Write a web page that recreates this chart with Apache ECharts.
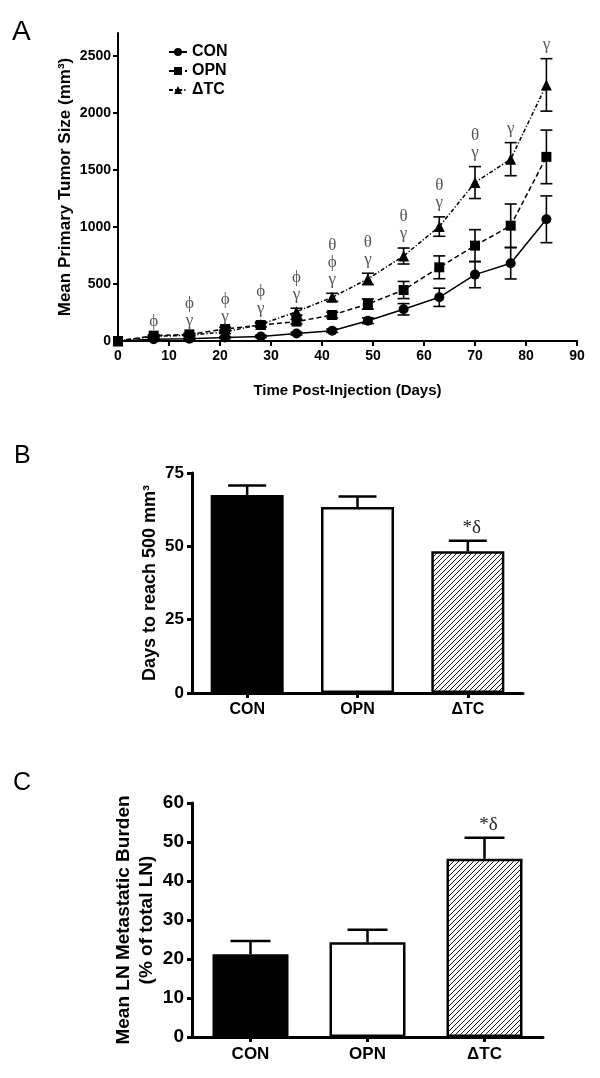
<!DOCTYPE html>
<html><head><meta charset="utf-8">
<script src="https://cdn.jsdelivr.net/npm/echarts@6/dist/echarts.min.js"></script>
<style>html,body{margin:0;padding:0;background:#fff}#c{width:600px;height:1078px}</style>
</head><body><div id="c"></div>
<script>
// ---- Panel A data ----
const days = [0, 7, 14, 21, 28, 35, 42, 49, 56, 63, 70, 77, 84];
const conMean = [0, 15, 20, 30, 40, 65, 90, 178, 278, 383, 582, 681, 1067];
const conErr  = [0, 5, 5, 8, 10, 12, 15, 25, 50, 80, 115, 137, 205];
const opnMean = [0, 47, 58, 105, 140, 170, 228, 324, 447, 646, 836, 1011, 1614];
const opnErr  = [0, 8, 10, 15, 15, 20, 25, 45, 75, 100, 140, 190, 235];
const tcMean  = [0, 40, 50, 80, 145, 257, 383, 544, 745, 1003, 1389, 1594, 2245];
const tcErr   = [0, 8, 10, 15, 20, 30, 35, 50, 70, 85, 140, 145, 230];
const annotDays = [7, 14, 21, 28, 35, 42, 49, 56, 63, 70, 77, 84];
const annotText = ['ϕ', 'ϕ\nγ', 'ϕ\nγ', 'ϕ\nγ', 'ϕ\nγ', 'θ\nϕ\nγ', 'θ\nγ', 'θ\nγ', 'θ\nγ', 'θ\nγ', 'γ', 'γ'];
const yTicksA = [0, 500, 1000, 1500, 2000, 2500];
// ---- Panel B / C data ----
const groups = ['CON', 'OPN', 'ΔTC'];
const daysTo500 = [67.5, 63.4, 48.3];
const daysTo500Err = [3.2, 3.6, 3.6];
const sigB = ['', '', '*δ'];
const lnBurden = [21.2, 24.3, 45.7];
const lnBurdenErr = [3.4, 3.2, 5.4];
const sigC = ['', '', '*δ'];

const SANS = 'Liberation Sans, Arial, sans-serif';
const SERIF = 'Liberation Serif, Times New Roman, serif';

function hatch() {
  const s = 5, c = document.createElement('canvas');
  c.width = s; c.height = s;
  const g = c.getContext('2d');
  g.strokeStyle = '#000'; g.lineWidth = 0.9;
  g.beginPath();
  g.moveTo(0, s); g.lineTo(s, 0);
  g.moveTo(-1, 1); g.lineTo(1, -1);
  g.moveTo(s - 1, s + 1); g.lineTo(s + 1, s - 1);
  g.stroke();
  return c;
}
const hatchFill = { image: hatch(), repeat: 'repeat' };

const chart = echarts.init(document.getElementById('c'), null, { renderer: 'canvas' });

function errA(mean, err, name) {
  return {
    type: 'custom', name: name + ' err', xAxisIndex: 0, yAxisIndex: 0, z: 3,
    data: days.map((d, i) => [d, mean[i] - err[i], mean[i] + err[i]]),
    renderItem: (params, api) => {
      const lo = api.coord([api.value(0), api.value(1)]);
      const hi = api.coord([api.value(0), api.value(2)]);
      if (Math.abs(hi[1] - lo[1]) < 1) return null;
      const w = 6, st = { stroke: '#000', lineWidth: 1.6 };
      return { type: 'group', children: [
        { type: 'line', shape: { x1: lo[0], y1: lo[1], x2: hi[0], y2: hi[1] }, style: st },
        { type: 'line', shape: { x1: lo[0] - w, y1: lo[1], x2: lo[0] + w, y2: lo[1] }, style: st },
        { type: 'line', shape: { x1: hi[0] - w, y1: hi[1], x2: hi[0] + w, y2: hi[1] }, style: st }
      ]};
    }
  };
}

function errBar(xi, yi, mean, err, sig, capW) {
  return {
    type: 'custom', xAxisIndex: xi, yAxisIndex: yi, z: 3,
    data: mean.map((m, i) => [i, m, m + err[i]]),
    renderItem: (params, api) => {
      const lo = api.coord([api.value(0), api.value(1)]);
      const hi = api.coord([api.value(0), api.value(2)]);
      const st = { stroke: '#000', lineWidth: 2.5 };
      const ch = [
        { type: 'line', shape: { x1: lo[0], y1: lo[1], x2: hi[0], y2: hi[1] }, style: st },
        { type: 'line', shape: { x1: hi[0] - capW / 2, y1: hi[1], x2: hi[0] + capW / 2, y2: hi[1] }, style: st }
      ];
      const s = sig[params.dataIndex];
      if (s) ch.push({ type: 'text', x: hi[0] + 4, y: hi[1] - 3,
        style: { text: s, font: '19px ' + SERIF, fill: '#222', align: 'center', verticalAlign: 'bottom' } });
      return { type: 'group', children: ch };
    }
  };
}

const barItems = (vals) => vals.map((v, i) => ({
  value: v,
  itemStyle: i === 0 ? { color: '#000', borderColor: '#000', borderWidth: 2.5 }
        : i === 1 ? { color: '#fff', borderColor: '#000', borderWidth: 2.5 }
        : { color: hatchFill, borderColor: '#000', borderWidth: 2.5 }
}));

const axisLab = (size) => ({ color: '#000', fontFamily: SANS, fontWeight: 'bold', fontSize: size });
const nameStyle = (size, lh) => ({ color: '#000', fontWeight: 'bold', fontSize: size, lineHeight: lh, fontFamily: SANS });

const option = {
  animation: false,
  backgroundColor: '#fff',
  textStyle: { fontFamily: SANS },
  grid: [
    { left: 118, top: 33, width: 459, height: 308, containLabel: false },
    { left: 192, top: 473, width: 331, height: 220, containLabel: false },
    { left: 192, top: 803, width: 351, height: 234, containLabel: false }
  ],
  legend: {
    data: ['CON', 'OPN', 'ΔTC'], orient: 'vertical', left: 163, top: 39,
    itemWidth: 18, itemHeight: 10, itemGap: 3,
    textStyle: { color: '#000', fontWeight: 'bold', fontSize: 16, fontFamily: SANS }
  },
  xAxis: [
    { type: 'value', gridIndex: 0, min: 0, max: 90, interval: 10,
      name: 'Time Post-Injection (Days)', nameLocation: 'middle', nameGap: 41, nameMoveOverlap: false,
      nameTextStyle: nameStyle(15, 18),
      axisLine: { show: true, onZero: false, lineStyle: { color: '#000', width: 2 } },
      axisTick: { show: true, length: 5, lineStyle: { color: '#000', width: 2 } },
      axisLabel: Object.assign({ margin: 8 }, axisLab(14)),
      splitLine: { show: false } },
    { type: 'category', gridIndex: 1, data: groups,
      axisLine: { lineStyle: { color: '#000', width: 3 } },
      axisTick: { show: true, alignWithLabel: true, length: 5, lineStyle: { color: '#000', width: 3 } },
      axisLabel: Object.assign({ margin: 9 }, axisLab(16)) },
    { type: 'category', gridIndex: 2, data: groups,
      axisLine: { lineStyle: { color: '#000', width: 3 } },
      axisTick: { show: true, alignWithLabel: true, length: 5, lineStyle: { color: '#000', width: 3 } },
      axisLabel: Object.assign({ margin: 9 }, axisLab(17)) }
  ],
  yAxis: [
    { type: 'value', gridIndex: 0, min: 0, max: 2700,
      name: 'Mean Primary Tumor Size (mm³)', nameLocation: 'middle', nameGap: 43, nameMoveOverlap: false,
      nameTextStyle: nameStyle(17, 19),
      axisLine: { show: true, lineStyle: { color: '#000', width: 2 } },
      axisTick: { show: true, length: 5, customValues: yTicksA, lineStyle: { color: '#000', width: 2 } },
      axisLabel: Object.assign({ margin: 7, customValues: yTicksA, formatter: v => String(v) }, axisLab(14)),
      splitLine: { show: false } },
    { type: 'value', gridIndex: 1, min: 0, max: 75, interval: 25,
      name: 'Days to reach 500 mm³', nameLocation: 'middle', nameGap: 32, nameMoveOverlap: false,
      nameTextStyle: nameStyle(18, 20),
      axisLine: { show: true, lineStyle: { color: '#000', width: 3 } },
      axisTick: { show: true, length: 5, lineStyle: { color: '#000', width: 3 } },
      axisLabel: Object.assign({ margin: 8 }, axisLab(17)),
      splitLine: { show: false } },
    { type: 'value', gridIndex: 2, min: 0, max: 60, interval: 10,
      name: 'Mean LN Metastatic Burden\n(% of total LN)', nameLocation: 'middle', nameGap: 34, nameMoveOverlap: false,
      nameTextStyle: nameStyle(19, 23),
      axisLine: { show: true, lineStyle: { color: '#000', width: 3 } },
      axisTick: { show: true, length: 5, lineStyle: { color: '#000', width: 3 } },
      axisLabel: Object.assign({ margin: 8 }, axisLab(19)),
      splitLine: { show: false } }
  ],
  series: [
    errA(conMean, conErr, 'CON'),
    errA(opnMean, opnErr, 'OPN'),
    errA(tcMean, tcErr, 'ΔTC'),
    { type: 'line', name: 'CON', xAxisIndex: 0, yAxisIndex: 0, z: 4,
      data: days.map((d, i) => [d, conMean[i]]),
      symbol: 'circle', symbolSize: 10, itemStyle: { color: '#000' },
      lineStyle: { color: '#000', width: 1.5, type: 'solid' } },
    { type: 'line', name: 'OPN', xAxisIndex: 0, yAxisIndex: 0, z: 4,
      data: days.map((d, i) => [d, opnMean[i]]),
      symbol: 'rect', symbolSize: 10, itemStyle: { color: '#000' },
      lineStyle: { color: '#000', width: 1.5, type: [5, 3] } },
    { type: 'line', name: 'ΔTC', xAxisIndex: 0, yAxisIndex: 0, z: 4,
      data: days.map((d, i) => [d, tcMean[i]]),
      symbol: 'triangle', symbolSize: 11, itemStyle: { color: '#000' },
      lineStyle: { color: '#000', width: 1.5, type: [4, 2, 1.2, 2] } },
    { type: 'scatter', name: 'annot', xAxisIndex: 0, yAxisIndex: 0, z: 5,
      symbolSize: 1, itemStyle: { color: 'rgba(0,0,0,0)' }, silent: true,
      data: annotDays.map(d => { const i = days.indexOf(d); return [d, tcMean[i] + tcErr[i]]; }),
      label: { show: true, position: 'top', distance: 5,
        formatter: p => annotText[p.dataIndex],
        color: '#2a2a2a', fontFamily: SERIF, fontSize: 17, lineHeight: 17 } },
    { type: 'bar', name: 'barB', xAxisIndex: 1, yAxisIndex: 1, barWidth: 73, z: 2,
      data: barItems(daysTo500) },
    errBar(1, 1, daysTo500, daysTo500Err, sigB, 38),
    { type: 'bar', name: 'barC', xAxisIndex: 2, yAxisIndex: 2, barWidth: 76, z: 2,
      data: barItems(lnBurden) },
    errBar(2, 2, lnBurden, lnBurdenErr, sigC, 40)
  ],
  graphic: [
    { type: 'text', left: 12, top: 18, style: { text: 'A', font: '28px ' + SANS, fill: '#000' } },
    { type: 'text', left: 14, top: 444, style: { text: 'B', font: '25px ' + SANS, fill: '#000' } },
    { type: 'text', left: 13, top: 771, style: { text: 'C', font: '25px ' + SANS, fill: '#000' } }
  ]
};
chart.setOption(option);
</script></body></html>
